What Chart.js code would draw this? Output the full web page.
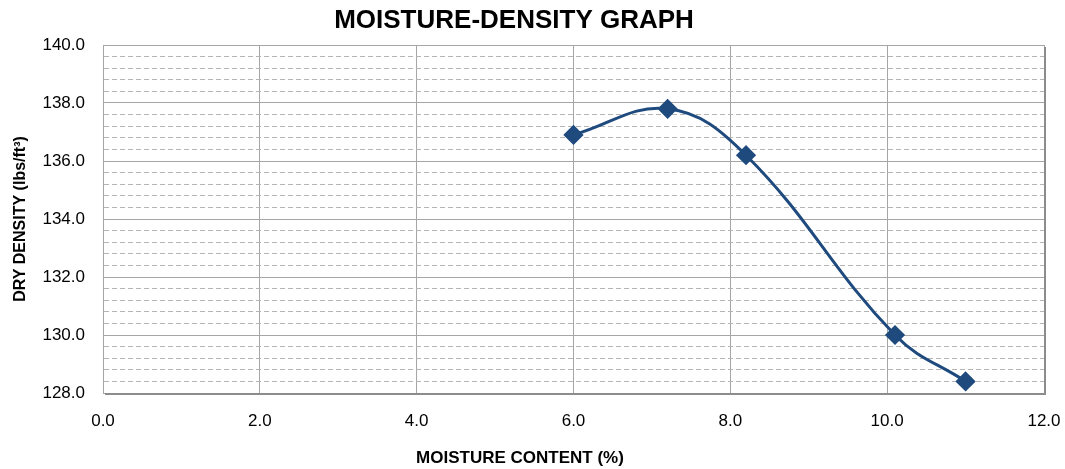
<!DOCTYPE html>
<html>
<head>
<meta charset="utf-8">
<script src="https://cdn.jsdelivr.net/npm/chart.js@4.4.1/dist/chart.umd.min.js"></script>
<style>
  html, body { margin: 0; padding: 0; background: #fff; }
  #wrap { width: 1065px; height: 469px; }
</style>
</head>
<body>
<div id="wrap"><canvas id="myChart"></canvas></div>
<script>
const moisture = [6.0, 7.2, 8.2, 10.1, 11.0];
const density = [136.9, 137.8, 136.2, 130.0, 128.4];
const chartTitle = 'MOISTURE-DENSITY GRAPH';
const xTitle = 'MOISTURE CONTENT (%)';
const yTitle = 'DRY DENSITY (lbs/ft\u00B3)';

const sans = '"Liberation Sans", Arial, sans-serif';

function isMajor(v) {
    return Math.abs(v / 2 - Math.round(v / 2)) < 1e-6;
}

// titles drawn by hand, the original has them off centre
const textPlugin = {
    id: 'texts',
    afterDraw(chart) {
        const c = chart.ctx;
        c.save();
        c.fillStyle = '#000';
        c.textAlign = 'center';
        c.textBaseline = 'middle';
        c.font = 'bold 26px ' + sans;
        c.fillText(chartTitle, 514, 21);
        c.font = 'bold 17px ' + sans;
        c.fillText(xTitle, 520, 458);
        // little shadow on right and bottom of the plot frame
        const a = chart.chartArea;
        c.strokeStyle = '#8c8c8c';
        c.lineWidth = 2;
        c.beginPath();
        c.moveTo(a.right + 1, a.top + 2);
        c.lineTo(a.right + 1, a.bottom + 1);
        c.lineTo(a.left + 2, a.bottom + 1);
        c.stroke();
        c.restore();
    }
};

const ctx = document.getElementById('myChart');

const myChart = new Chart(ctx, {
    type: 'line',
    data: {
        datasets: [{
            data: moisture.map((m, i) => ({ x: m, y: density[i] })),
            borderColor: '#1F4A7E',
            backgroundColor: '#1F4A7E',
            borderWidth: 3,
            tension: 0.4,
            pointStyle: 'rectRot',
            pointRadius: 8,
            pointHoverRadius: 8,
            fill: false
        }]
    },
    options: {
        responsive: true,
        maintainAspectRatio: false,
        animation: false,
        layout: { padding: { left: 0, right: 21, top: 45, bottom: 0 } },
        plugins: {
            legend: { display: false },
            tooltip: { enabled: false },
            title: { display: false }
        },
        scales: {
            x: {
                type: 'linear',
                min: 0,
                max: 12,
                ticks: {
                    stepSize: 2,
                    padding: 18,
                    color: '#000',
                    font: { family: sans, size: 17 },
                    callback: v => v.toFixed(1)
                },
                grid: { color: '#a6a6a6', lineWidth: 1, drawTicks: false },
                border: { color: '#a6a6a6' },
                afterFit: s => {
                    s.height = 76;
                    s.paddingLeft = 0;
                    s.paddingRight = 0;
                }
            },
            y: {
                min: 128,
                max: 140,
                ticks: {
                    stepSize: 0.4,
                    autoSkip: false,
                    padding: 18,
                    color: '#000',
                    font: { family: sans, size: 17 },
                    callback: v => isMajor(v) ? v.toFixed(1) : ''
                },
                grid: {
                    drawTicks: false,
                    color: c => (c.tick && !isMajor(c.tick.value)) ? '#b4b4b4' : '#a6a6a6',
                    lineWidth: 1
                },
                border: {
                    color: '#a6a6a6',
                    dash: c => (c.tick && !isMajor(c.tick.value)) ? [5, 3] : []
                },
                title: {
                    display: true,
                    text: yTitle,
                    color: '#000',
                    font: { family: sans, size: 16, weight: 'bold' },
                    padding: { top: 11, bottom: 0 }
                },
                afterFit: s => {
                    s.width = 103;
                    s.paddingTop = 0;
                    s.paddingBottom = 0;
                }
            }
        }
    },
    plugins: [textPlugin]
});
</script>
</body>
</html>
